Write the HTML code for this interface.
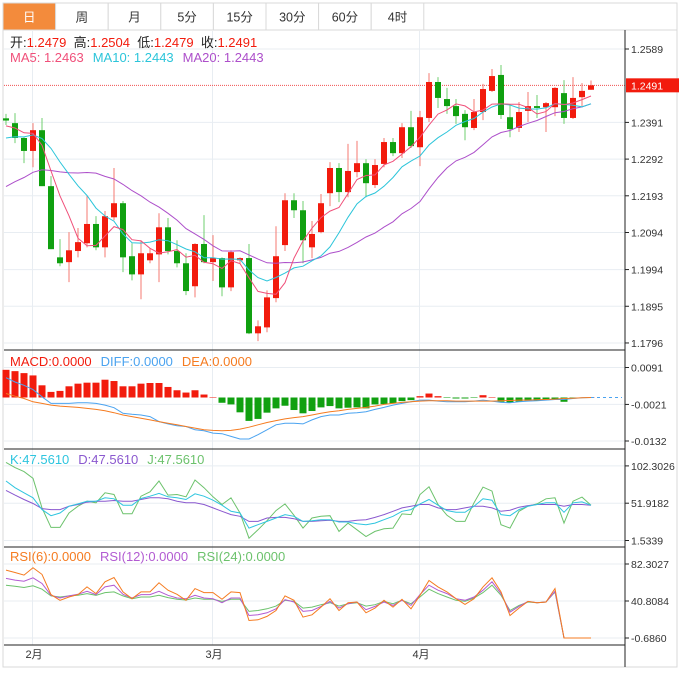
<!DOCTYPE html>
<html><head><meta charset="utf-8"><style>
body{margin:0;background:#fff;font-family:"Liberation Sans","Noto Sans CJK SC",sans-serif;}
svg text{font-family:"Liberation Sans","Noto Sans CJK SC",sans-serif;}
</style></head><body>
<svg id="c" width="679" height="670" viewBox="0 0 679 670" xmlns="http://www.w3.org/2000/svg">
<rect x="0" y="0" width="679" height="670" fill="#fff"/>
<rect x="3" y="3" width="674" height="664" fill="none" stroke="#d9d9d9"/>
<g id="tabs"></g>
<g id="grid"></g>
<g id="plot"></g>
<g id="axes"></g>
<g id="legend"></g>
</svg>
<script>
const NS="http://www.w3.org/2000/svg";
const categories=["2月","3月","4月"];
const monthIdx=[3,23,46];
const priorCloses=[1.2087,1.2087,1.2087,1.2087,1.2087,1.2087,1.2087,1.2087,1.2087,1.2087,1.2316,1.2316,1.2316,1.2316,1.2316,1.2378,1.2378,1.2378,1.2378];
const opens=[1.2402,1.2389,1.2349,1.2314,1.2370,1.2219,1.2027,1.2014,1.2044,1.2065,1.2117,1.2054,1.2135,1.2173,1.2030,1.1981,1.2019,1.2035,1.2108,1.2044,1.2011,1.1949,1.2063,1.2014,1.2025,1.1946,1.2019,1.2025,1.1822,1.1838,1.1917,1.2060,1.2181,1.2154,1.2054,1.2095,1.2200,1.2268,1.2203,1.2257,1.2281,1.2222,1.2279,1.2338,1.2308,1.2378,1.2324,1.2403,1.2500,1.2454,1.2435,1.2414,1.2376,1.2419,1.2476,1.2519,1.2405,1.2376,1.2422,1.2435,1.2432,1.2432,1.2470,1.2403,1.2459,1.2479];
const highs=[1.2414,1.2416,1.2351,1.2389,1.2403,1.2246,1.2076,1.2095,1.2106,1.2192,1.2138,1.2152,1.2268,1.2179,1.2065,1.2073,1.2052,1.2146,1.2133,1.2073,1.2038,1.2065,1.2141,1.2087,1.2027,1.2046,1.2027,1.2063,1.1857,1.1938,1.2111,1.2200,1.2200,1.2179,1.2125,1.2198,1.2284,1.2281,1.2333,1.2341,1.2292,1.2292,1.2349,1.2349,1.2389,1.2422,1.2422,1.2524,1.2513,1.2484,1.2454,1.2424,1.2454,1.2495,1.2535,1.2546,1.2438,1.2446,1.2473,1.2465,1.2446,1.2486,1.2505,1.2513,1.2497,1.2504];
const lows=[1.2384,1.2335,1.2281,1.2270,1.2219,1.2049,1.2003,1.1960,1.2027,1.2054,1.2046,1.2027,1.2127,1.1987,1.1965,1.1914,1.2011,1.1960,1.2035,1.2000,1.1925,1.1919,1.2011,1.1963,1.1922,1.1936,1.2011,1.1820,1.1801,1.1825,1.1906,1.2044,1.2133,1.2011,1.2025,1.2092,1.2165,1.2176,1.2189,1.2243,1.2189,1.2214,1.2270,1.2300,1.2295,1.2322,1.2273,1.2392,1.2430,1.2414,1.2387,1.2343,1.2370,1.2397,1.2473,1.2400,1.2351,1.2365,1.2392,1.2403,1.2365,1.2408,1.2387,1.2400,1.2435,1.2479];
const closes=[1.2396,1.2349,1.2314,1.2370,1.2219,1.2049,1.2011,1.2046,1.2068,1.2117,1.2054,1.2138,1.2173,1.2027,1.1981,1.2038,1.2038,1.2108,1.2044,1.2011,1.1936,1.2063,1.2014,1.2025,1.1946,1.2041,1.2025,1.1822,1.1841,1.1919,1.2030,1.2181,1.2154,1.2073,1.2090,1.2173,1.2268,1.2203,1.2260,1.2281,1.2227,1.2276,1.2338,1.2308,1.2378,1.2327,1.2405,1.2500,1.2457,1.2435,1.2408,1.2378,1.2419,1.2481,1.2516,1.2411,1.2373,1.2419,1.2435,1.2430,1.2443,1.2484,1.2403,1.2457,1.2476,1.2491];
const priceTicks=[1.2589,1.2391,1.2292,1.2193,1.2094,1.1994,1.1895,1.1796];
const macdHist=[0.0084,0.0080,0.0074,0.0067,0.0037,0.0017,0.0020,0.0034,0.0042,0.0045,0.0045,0.0054,0.0050,0.0034,0.0034,0.0042,0.0044,0.0044,0.0032,0.0022,0.0015,0.0022,0.0009,0.0000,-0.0016,-0.0021,-0.0045,-0.0071,-0.0065,-0.0046,-0.0033,-0.0025,-0.0038,-0.0048,-0.0041,-0.0030,-0.0026,-0.0033,-0.0031,-0.0030,-0.0033,-0.0021,-0.0020,-0.0018,-0.0011,-0.0008,0.0004,0.0012,0.0004,-0.0001,-0.0003,-0.0003,-0.0001,0.0007,0.0000,-0.0013,-0.0016,-0.0012,-0.0010,-0.0010,-0.0008,-0.0007,-0.0013,-0.0003,0.0000,0.0000];
const diffVals=[0.0060,0.0047,0.0037,0.0024,0.0002,-0.0018,-0.0018,-0.0018,-0.0016,-0.0016,-0.0018,-0.0023,-0.0031,-0.0048,-0.0051,-0.0053,-0.0058,-0.0073,-0.0080,-0.0086,-0.0088,-0.0098,-0.0101,-0.0108,-0.0110,-0.0118,-0.0126,-0.0126,-0.0113,-0.0098,-0.0083,-0.0078,-0.0078,-0.0080,-0.0068,-0.0058,-0.0053,-0.0053,-0.0048,-0.0046,-0.0043,-0.0036,-0.0030,-0.0023,-0.0018,-0.0013,-0.0008,-0.0008,-0.0011,-0.0013,-0.0013,-0.0013,-0.0011,-0.0008,-0.0011,-0.0015,-0.0016,-0.0013,-0.0011,-0.0010,-0.0008,-0.0006,-0.0006,-0.0003,-0.0001,0.0000];
const deaVals=[0.0012,0.0004,-0.0003,-0.0013,-0.0018,-0.0023,-0.0026,-0.0028,-0.0030,-0.0033,-0.0036,-0.0040,-0.0046,-0.0053,-0.0058,-0.0063,-0.0068,-0.0073,-0.0078,-0.0083,-0.0088,-0.0093,-0.0098,-0.0100,-0.0101,-0.0100,-0.0096,-0.0090,-0.0083,-0.0076,-0.0070,-0.0065,-0.0061,-0.0058,-0.0053,-0.0048,-0.0043,-0.0040,-0.0036,-0.0033,-0.0030,-0.0026,-0.0021,-0.0018,-0.0015,-0.0013,-0.0011,-0.0010,-0.0010,-0.0010,-0.0011,-0.0011,-0.0011,-0.0011,-0.0011,-0.0010,-0.0009,-0.0008,-0.0008,-0.0007,-0.0006,-0.0005,-0.0003,-0.0002,-0.0001,0.0000];
const macdTicks=[0.0091,-0.0021,-0.0132];
const kVals=[81.9,72.8,66,59.2,43.3,35.1,38.7,47.8,51,54.6,54.6,59.2,57.8,49.2,49.2,58.3,61.4,65.1,60.5,59.2,56.9,64.6,61.4,56,49.2,41,38.7,18.3,22.9,27.4,31.9,36.5,34.2,27.4,28.3,29.7,29.7,26.5,26.5,24.2,22.9,25.1,29.7,34.2,41,43.3,51,56.9,49.2,41.9,39.6,39.6,47.8,57.8,56,36.5,35.1,43.3,47.8,50.1,52.4,52.4,39.6,52.4,53.7,49.2];
const dVals=[69.2,62.8,56.9,51.5,44.6,43.3,43.3,47.8,50.1,53.3,54.6,54.6,55.5,54.6,54.6,56.9,59.2,59.2,57.8,54.6,52.4,52.4,50.1,45.6,41,36.5,34.2,27.4,27.4,31.9,32.8,32.8,31,27.4,27.4,28.3,28.8,27.4,27.4,28.8,29.7,32.8,36.5,41,45.6,47.8,50.1,50.1,45.6,43.3,43.3,45.6,47.8,47.8,45.6,41,42.4,46.5,48.7,50.1,50.1,50.1,47.8,50.1,50.1,49.2];
const jVals=[107,100,94.6,85.5,45.6,19.2,19.2,38.7,47.8,54.6,52.4,66,63.7,37.8,37.8,61.4,67.3,81.9,62.8,63.7,60.5,83.2,72.8,60.5,50.1,59.2,38.7,4.7,16,28.3,41.9,51,35.6,18.3,31.9,34.2,35.1,13.8,25.1,16,7,13.8,17.4,18.3,37.4,36.5,63.7,74.1,50.1,35.6,27.4,27.4,52.4,73.7,68.2,22.9,18.3,41,47.8,51,57.8,59.2,25.1,54.6,60.1,49.2];
const kdjTicks=[102.3026,51.9182,1.5339];
const rsi6=[75.5,72.8,69.8,78.1,70.6,48,41.6,45.3,48,56.6,49.1,62.3,67.2,51,43.4,51,51,61.2,52.9,48.3,41.6,54.7,50.2,50.2,42.7,51,50.2,18.9,19.7,23.5,30.2,46.5,41.6,22.7,25.3,34,43.4,30.2,38.9,39.7,27.6,32.9,41.6,34,42.7,32.1,47.2,63.8,56.6,51,43.4,37,43.4,56.6,66.8,51,24.6,32.9,40.4,38.9,39.7,54.7,-0.686,-0.686,-0.686,-0.686];
const rsi12=[66.1,64.2,63,66.8,60.4,47.2,44.2,46.5,48.3,51.7,48,56.6,58.5,48.3,44.2,48,48,51.7,47.2,44.2,43.4,47.2,44.2,43.4,38.9,44.2,44.2,24.6,25.3,27.6,32.1,42.3,39.7,29.1,30.2,34.8,40.4,32.9,37.8,39.7,31,34.8,39.7,35.9,41.6,35.9,48,58.5,52.9,49.1,43.4,41.6,45.3,52.9,62.3,49.1,28.4,34.8,40.4,38.9,39.7,51.7,-0.686,-0.686,-0.686,-0.686];
const rsi24=[58.5,57.4,55.9,57.8,54,46.5,45.3,46.5,47.2,49.1,47.2,50.2,51,46.5,43.4,45.3,45.3,47.2,44.6,42.7,41.9,44.2,42.7,42.7,40.4,42.7,42.7,29.1,30.2,32.1,35.1,41.6,40.4,32.9,34,36.7,38.9,35.1,37.8,38.9,35.1,36.7,40.4,37.8,41.6,37.8,45.3,54,49.1,45.3,41.6,40.4,44.2,50.2,58.5,47.2,30.2,35.9,39.7,38.9,39.7,51,-0.686,-0.686,-0.686,-0.686];
const rsiTicks=[82.3027,40.8084,-0.686];

const C={red:"#f21b0d",green:"#10a010",ma5:"#f0507a",ma10:"#2cc5da",ma20:"#ad4fca",diff:"#4aa3f0",dea:"#f57b20",k:"#2ec5df",d:"#8a58cf",j:"#6cc26c",grid:"#e8edf2",axis:"#333"};
const xOf=i=>6+9*i;
const yP=p=>49+(1.2589-p)*3707;
const yM=v=>397.5-v*3295;
const yK=v=>503.2-(v-51.9182)*0.7404;
const yR=v=>601-(v-40.8084)*0.8918;
function el(tag,attrs,parent,text){const e=document.createElementNS(NS,tag);for(const k in attrs)e.setAttribute(k,attrs[k]);if(text!==undefined)e.textContent=text;parent.appendChild(e);return e;}
const gTabs=document.getElementById('tabs'),gGrid=document.getElementById('grid'),gPlot=document.getElementById('plot'),gAx=document.getElementById('axes'),gLeg=document.getElementById('legend');

const tabs=["日","周","月","5分","15分","30分","60分","4时"];
tabs.forEach((t,i)=>{
  const x=3+i*52.6,w=52.6;
  const r=el('rect',{x:x,y:3,width:w,height:27,fill:i===0?"#f38b3c":"#fff",stroke:"#d9d9d9"},gTabs);
  
  
  const tx=el('text',{x:x+w/2,y:21.5,'text-anchor':'middle','font-size':12.5,fill:i===0?"#fff":"#333"},gTabs,t);
  
  
});
el('line',{x1:3,y1:30,x2:677,y2:30,stroke:"#d9d9d9"},gTabs);

priceTicks.forEach(p=>{el('line',{x1:4,x2:625,y1:yP(p),y2:yP(p),stroke:C.grid},gGrid);});
macdTicks.forEach(v=>{el('line',{x1:4,x2:625,y1:yM(v),y2:yM(v),stroke:C.grid},gGrid);});
kdjTicks.forEach(v=>{el('line',{x1:4,x2:625,y1:yK(v),y2:yK(v),stroke:C.grid},gGrid);});
rsiTicks.forEach(v=>{el('line',{x1:4,x2:625,y1:yR(v),y2:yR(v),stroke:C.grid},gGrid);});
monthIdx.forEach(i=>{el('line',{x1:xOf(i)-0.5,x2:xOf(i)-0.5,y1:31,y2:645,stroke:C.grid},gGrid);});

[350,449,547,645].forEach(y=>{const l=el('line',{x1:4,x2:625,y1:y,y2:y,stroke:"#222"},gAx);});
el('line',{x1:625,x2:625,y1:30,y2:667,stroke:"#222"},gAx);

function ticks(arr,fy,fmt){arr.forEach(v=>{const y=fy(v);el('line',{x1:625,x2:629,y1:y,y2:y,stroke:"#222"},gAx);const t=el('text',{x:631,y:y+4,'font-size':10.5,fill:"#333"},gAx,fmt(v));});}
ticks(priceTicks,yP,v=>v.toFixed(4));
ticks(macdTicks,yM,v=>v.toFixed(4));
ticks(kdjTicks,yK,v=>v.toFixed(4));
ticks(rsiTicks,yR,v=>v.toFixed(4));
monthIdx.forEach((i,k)=>{const t=el('text',{x:xOf(i)+1,y:658,'font-size':11,'text-anchor':'middle',fill:"#333"},gAx,categories[k]);});

const last=closes[closes.length-1];
el('line',{x1:4,x2:625,y1:yP(last),y2:yP(last),stroke:"#f05050",'stroke-dasharray':"1,1"},gPlot);
const pb=el('rect',{x:626,y:yP(last)-7,width:53,height:14,fill:"#f21b0d"},gAx);

el('text',{x:631,y:yP(last)+4,'font-size':10.5,fill:"#fff"},gAx,last.toFixed(4));

closes.forEach((c,i)=>{
  const o=opens[i],up=c>=o,col=up?C.red:C.green,x=xOf(i);
  const g=el('g',{},gPlot);
  
  
  el('line',{x1:x,x2:x,y1:yP(highs[i]),y2:yP(lows[i]),stroke:up?"#f57a70":"#6fcf6f"},g);
  const top=yP(Math.max(o,c)),bot=yP(Math.min(o,c));
  el('rect',{x:x-3,y:top,width:6,height:Math.max(1,bot-top),fill:col},g);
});

const all=priorCloses.concat(closes);
function ma(n){return closes.map((_,i)=>{const j=i+priorCloses.length;let s=0;for(let k=j-n+1;k<=j;k++)s+=all[k];return s/n;});}
function line(vals,fy,color,name,w){const pts=vals.map((v,i)=>xOf(i)+','+fy(v).toFixed(1)).join(' ');const p=el('polyline',{points:pts,fill:'none',stroke:color,'stroke-width':w||1},gPlot);return p;}
line(ma(20),yP,C.ma20,'ma20-line');
line(ma(10),yP,C.ma10,'ma10-line');
line(ma(5),yP,C.ma5,'ma5-line');

macdHist.forEach((v,i)=>{const y0=yM(0),y1=yM(v);const r=el('rect',{x:xOf(i)-3.5,y:Math.min(y0,y1),width:7,height:Math.max(0.5,Math.abs(y1-y0)),fill:v>=0?C.red:C.green},gPlot);});
line(diffVals,yM,C.diff,'diff-line');
line(deaVals,yM,C.dea,'dea-line');
el('line',{x1:xOf(65),x2:622,y1:yM(0),y2:yM(0),stroke:C.diff,'stroke-dasharray':"3,3"},gPlot);

line(jVals,yK,C.j,'j-line');
line(dVals,yK,C.d,'d-line');
line(kVals,yK,C.k,'k-line');

line(rsi24,yR,C.j,'rsi24-line');
line(rsi12,yR,"#b25bd2",'rsi12-line');
line(rsi6,yR,C.dea,'rsi6-line');

function leg(y,items,name){const t=el('text',{x:10,y:y,'font-size':13},gLeg);items.forEach(([s,c],k)=>{el('tspan',{fill:c,dx:k?9:0},t,s);});}
const ohlc=el('text',{x:10,y:47,'font-size':13},gLeg);

[["开:","#222"],["1.2479",C.red],["  高:","#222"],["1.2504",C.red],["  低:","#222"],["1.2479",C.red],["  收:","#222"],["1.2491",C.red]].forEach(([s,c])=>el('tspan',{fill:c},ohlc,s));
ohlc.setAttribute('xml:space','preserve');
ohlc.style.whiteSpace='pre';
leg(62,[["MA5: 1.2463",C.ma5],["MA10: 1.2443",C.ma10],["MA20: 1.2443",C.ma20]],'ma-legend');
leg(366,[["MACD:0.0000",C.red],["DIFF:0.0000",C.diff],["DEA:0.0000",C.dea]],'macd-legend');
leg(464,[["K:47.5610",C.k],["D:47.5610",C.d],["J:47.5610",C.j]],'kdj-legend');
leg(561,[["RSI(6):0.0000",C.dea],["RSI(12):0.0000","#b25bd2"],["RSI(24):0.0000",C.j]],'rsi-legend');
</script>
</body></html>
